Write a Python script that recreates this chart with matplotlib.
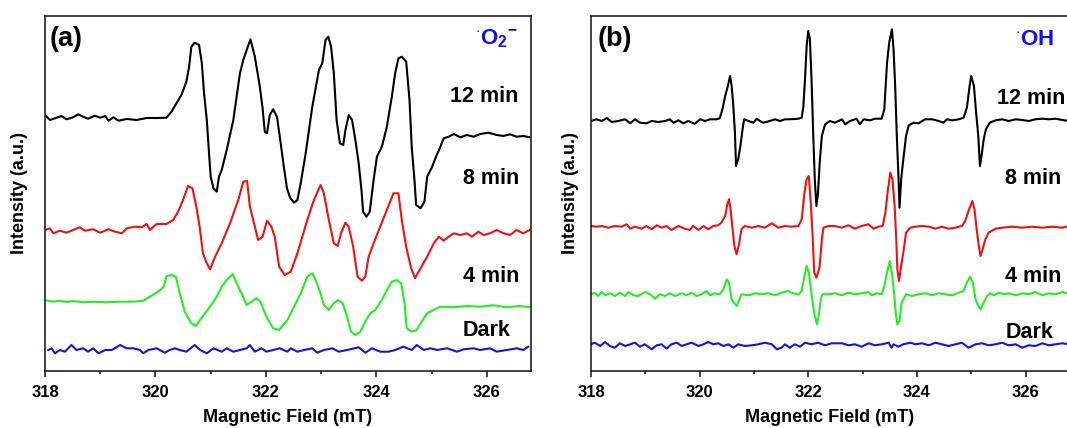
import matplotlib
matplotlib.use("Agg")
import matplotlib.pyplot as plt
from matplotlib.ticker import MultipleLocator

plt.rcParams["font.family"] = ["Liberation Sans", "DejaVu Sans"]
plt.rcParams["font.weight"] = "bold"
plt.rcParams["mathtext.fontset"] = "custom"
plt.rcParams["mathtext.rm"] = "Liberation Sans:bold"
plt.rcParams["mathtext.it"] = "Liberation Sans:bold"
plt.rcParams["mathtext.bf"] = "Liberation Sans:bold"

# ---- panel (a): .O2- spectra (field in mT, intensity in a.u. incl. offset)
a12_field = [318.00, 318.09, 318.18, 318.30, 318.39, 318.51, 318.60, 318.69, 318.78, 318.90,
             319.00, 319.09, 319.15, 319.24, 319.33, 319.48, 319.66, 319.84, 320.02, 320.20,
             320.29, 320.38, 320.47, 320.56, 320.61, 320.65, 320.71, 320.79, 320.84, 320.88,
             320.93, 320.97, 321.00, 321.05, 321.11, 321.15, 321.20, 321.29, 321.41, 321.53,
             321.59, 321.72, 321.80, 321.89, 321.94, 321.98, 322.02, 322.07, 322.13, 322.20,
             322.26, 322.32, 322.38, 322.44, 322.51, 322.57, 322.63, 322.72, 322.84, 322.96,
             323.02, 323.08, 323.13, 323.18, 323.23, 323.28, 323.34, 323.40, 323.44, 323.50,
             323.56, 323.62, 323.68, 323.73, 323.76, 323.82, 323.88, 323.95, 324.01, 324.10,
             324.19, 324.28, 324.34, 324.40, 324.46, 324.54, 324.60, 324.64, 324.69, 324.72,
             324.80, 324.87, 324.92, 325.01, 325.08, 325.16, 325.22, 325.31, 325.40, 325.52,
             325.64, 325.76, 325.88, 326.03, 326.18, 326.30, 326.42, 326.54, 326.66, 326.78]
a12_int = [255, 250, 251.7, 254, 250.7, 252.7, 255.7, 253.3, 251.3, 254.3,
           252.3, 254, 249.3, 252.7, 249.3, 251, 250, 252, 252, 252.3,
           258.3, 266.7, 275, 288.3, 303.3, 323.3, 327.3, 325, 306.7, 276.7,
           250, 216.7, 193.3, 181.7, 178.3, 193.3, 200, 220, 250, 296.7,
           310, 330.7, 313.3, 283.3, 261.7, 238.3, 236.7, 255, 260.7, 253.3,
           230, 205, 182, 172, 167.3, 170, 186.7, 216.7, 263.3, 300,
           306.7, 330, 333.3, 323.3, 296.7, 250, 226.7, 225, 240, 255,
           250, 230, 206.7, 180, 158.3, 153.3, 158.3, 190, 213.3, 223.3,
           243.3, 273.3, 296.7, 311.7, 313.3, 308.3, 270, 223.3, 190, 165,
           161.7, 168.3, 193.3, 203.3, 213.3, 223.3, 231.7, 233.3, 236, 232.7,
           235, 233.3, 236, 237.3, 235, 234, 235.7, 233.3, 234, 232.7]

a8_field = [318.00, 318.09, 318.15, 318.27, 318.39, 318.51, 318.63, 318.72, 318.87, 319.00,
            319.15, 319.27, 319.39, 319.48, 319.63, 319.75, 319.84, 319.90, 320.02, 320.20,
            320.32, 320.41, 320.50, 320.59, 320.67, 320.74, 320.80, 320.86, 320.93, 320.99,
            321.08, 321.20, 321.35, 321.50, 321.59, 321.66, 321.71, 321.77, 321.86, 321.94,
            322.02, 322.10, 322.16, 322.24, 322.34, 322.45, 322.57, 322.75, 322.87, 322.99,
            323.05, 323.14, 323.23, 323.30, 323.36, 323.44, 323.50, 323.58, 323.66, 323.74,
            323.80, 323.86, 323.95, 324.07, 324.19, 324.31, 324.40, 324.46, 324.54, 324.63,
            324.70, 324.80, 324.92, 325.04, 325.13, 325.22, 325.31, 325.40, 325.52, 325.64,
            325.73, 325.85, 325.94, 326.06, 326.18, 326.30, 326.42, 326.54, 326.66, 326.78]
a8_int = [140, 141.7, 136.7, 139.3, 137.3, 140, 142.7, 139.3, 140.7, 137.3,
          140.7, 138.3, 136.7, 141.7, 143.3, 142.7, 146, 140, 146, 146,
          150, 158.3, 170, 184, 181.7, 163.3, 143.3, 116.7, 106.7, 100.7,
          113.3, 126.7, 146.7, 170, 188.3, 189, 163.3, 150, 130, 133.3,
          149.3, 143.3, 133.3, 103.3, 95, 98.3, 116.7, 150, 170, 185,
          176.7, 150, 126.7, 124, 136.7, 147.3, 143.3, 123.3, 93.3, 89.3,
          93.3, 113.3, 126.7, 143.3, 160, 176.7, 176.7, 150, 123.3, 101.7,
          91.7, 101.7, 113.3, 126.7, 133.3, 129.3, 133.3, 136.7, 135, 136.7,
          133.3, 138.3, 135, 136.7, 140, 136.7, 135, 140, 136.7, 140]

a4_field = [318.00, 318.15, 318.27, 318.39, 318.51, 318.69, 318.87, 319.12, 319.36, 319.60,
            319.78, 319.90, 320.05, 320.15, 320.20, 320.29, 320.37, 320.44, 320.53, 320.65,
            320.73, 320.83, 320.99, 321.11, 321.20, 321.29, 321.40, 321.47, 321.56, 321.65,
            321.74, 321.83, 321.90, 322.01, 322.13, 322.24, 322.39, 322.51, 322.63, 322.75,
            322.84, 322.90, 322.99, 323.05, 323.14, 323.23, 323.31, 323.39, 323.47, 323.54,
            323.62, 323.71, 323.80, 323.89, 323.98, 324.10, 324.19, 324.28, 324.37, 324.45,
            324.51, 324.55, 324.64, 324.73, 324.82, 324.92, 325.04, 325.16, 325.40, 325.64,
            325.88, 326.12, 326.36, 326.60, 326.78]
a4_int = [70, 68.3, 69.3, 68, 69, 67.7, 68.3, 67.7, 68.3, 68.3,
          69.3, 73.3, 78.3, 83.3, 94, 95, 93.3, 76.7, 58.3, 46.7,
          44, 51.7, 63.3, 73.3, 83.3, 90, 96, 86.7, 76.7, 65,
          68.3, 71.7, 68.3, 53.3, 41.7, 40, 50, 63.3, 76.7, 93.3,
          96.7, 90, 76.7, 65, 60, 66.7, 70, 66.7, 53.3, 38.3,
          35, 38.3, 48.3, 56.7, 60, 70, 80, 88.3, 90, 86.7,
          66.7, 41.7, 38.3, 40, 48.3, 56.7, 60, 63.3, 62.7, 64,
          63.3, 64.7, 62.7, 64, 62.7]

a_dark_field = [318.06, 318.12, 318.18, 318.27, 318.36, 318.48, 318.57, 318.69, 318.78, 318.87,
                318.97, 319.09, 319.21, 319.36, 319.48, 319.60, 319.72, 319.78, 319.87, 320.02,
                320.17, 320.26, 320.35, 320.44, 320.56, 320.71, 320.81, 320.93, 321.05, 321.20,
                321.29, 321.41, 321.53, 321.65, 321.71, 321.80, 321.92, 322.01, 322.13, 322.25,
                322.39, 322.45, 322.57, 322.69, 322.84, 322.93, 323.05, 323.20, 323.32, 323.47,
                323.68, 323.80, 323.92, 324.07, 324.22, 324.34, 324.49, 324.64, 324.73, 324.86,
                324.98, 325.10, 325.28, 325.46, 325.58, 325.76, 325.88, 326.06, 326.18, 326.36,
                326.54, 326.66, 326.75]
a_dark_int = [20, 21.7, 16.7, 20, 18.3, 25, 20, 21.7, 18.3, 21.7,
              16.7, 20, 20, 25, 21.7, 21.7, 20, 16.7, 20, 21.7,
              17.3, 20, 21.7, 20, 18.3, 25, 20, 16.7, 21.7, 18.3,
              21.7, 18.3, 20, 21.7, 25, 18.3, 21.7, 18.3, 20, 21.7,
              18.3, 21.7, 18.3, 20, 21.7, 17.3, 20, 21.7, 18.3, 20,
              22.7, 17.3, 21.7, 18.3, 18.3, 20, 23.3, 20, 25, 20,
              21.7, 20, 21.7, 18.3, 20.7, 21.7, 20, 21.7, 18.3, 20,
              21.7, 20, 23.3]

# ---- panel (b): .OH spectra
b12_field = [318.00, 318.10, 318.20, 318.29, 318.38, 318.50, 318.63, 318.72, 318.81, 318.90,
             319.02, 319.12, 319.24, 319.36, 319.45, 319.52, 319.61, 319.70, 319.79, 319.91,
             320.01, 320.10, 320.19, 320.31, 320.37, 320.42, 320.47, 320.52, 320.56, 320.59,
             320.62, 320.65, 320.67, 320.71, 320.75, 320.79, 320.82, 320.90, 320.99, 321.05,
             321.11, 321.17, 321.29, 321.39, 321.48, 321.57, 321.66, 321.82, 321.88, 321.91,
             321.94, 321.97, 322.00, 322.03, 322.06, 322.09, 322.12, 322.15, 322.18, 322.21,
             322.25, 322.31, 322.40, 322.49, 322.62, 322.68, 322.77, 322.89, 322.95, 323.02,
             323.14, 323.23, 323.35, 323.40, 323.45, 323.49, 323.54, 323.57, 323.60, 323.63,
             323.66, 323.68, 323.71, 323.75, 323.80, 323.85, 323.94, 324.03, 324.15, 324.28,
             324.40, 324.49, 324.55, 324.65, 324.77, 324.86, 324.92, 324.97, 325.00, 325.05,
             325.09, 325.13, 325.16, 325.19, 325.23, 325.27, 325.34, 325.45, 325.57, 325.69,
             325.82, 325.94, 326.06, 326.18, 326.31, 326.43, 326.55, 326.68, 326.80]
b12_int = [249, 250.7, 249, 252, 248, 249, 250.7, 246.7, 250.7, 247.3,
           246.7, 249, 248, 249, 250.7, 247.3, 249.7, 246.7, 249, 246.3,
           250.7, 249, 250.7, 250.7, 251.7, 260.7, 274, 284, 294, 284,
           264, 237.3, 204, 210.7, 224, 240.7, 250.7, 249, 247.3, 251.3,
           249, 247.3, 249, 250.7, 249, 250.7, 250.7, 251.3, 252.3, 264,
           290.7, 324, 339, 330.7, 290.7, 237.3, 190.7, 164, 177.3, 207.3,
           234, 245.7, 249, 247.3, 250.7, 245.7, 249, 251.3, 245.7, 250.7,
           249.7, 251.3, 251.3, 260.7, 307.3, 327.3, 340.7, 320.7, 284, 234,
           194, 162.3, 190.7, 210.7, 234, 244.7, 247.3, 246.7, 250.7, 250.7,
           249, 247.3, 250.7, 249.7, 250.7, 252.3, 262.3, 284, 294, 284,
           257.3, 234, 204, 214, 230.7, 240.7, 247.3, 249.7, 250.7, 249,
           250.7, 250, 249, 250.7, 251.3, 250.7, 251.3, 250, 249]

b8_field = [318.00, 318.10, 318.20, 318.32, 318.44, 318.56, 318.66, 318.72, 318.81, 318.93,
            319.02, 319.12, 319.21, 319.30, 319.39, 319.48, 319.61, 319.73, 319.82, 319.88,
            319.98, 320.07, 320.16, 320.25, 320.34, 320.40, 320.47, 320.51, 320.54, 320.57,
            320.60, 320.64, 320.68, 320.72, 320.77, 320.83, 320.96, 321.08, 321.20, 321.33,
            321.45, 321.57, 321.69, 321.82, 321.88, 321.93, 321.97, 322.01, 322.05, 322.08,
            322.11, 322.15, 322.18, 322.21, 322.25, 322.28, 322.37, 322.49, 322.62, 322.74,
            322.86, 322.98, 323.11, 323.20, 323.29, 323.37, 323.42, 323.46, 323.51, 323.55,
            323.59, 323.62, 323.64, 323.67, 323.71, 323.75, 323.80, 323.88, 323.97, 324.09,
            324.22, 324.34, 324.46, 324.58, 324.71, 324.83, 324.89, 324.95, 325.02, 325.06,
            325.10, 325.14, 325.17, 325.21, 325.26, 325.32, 325.45, 325.57, 325.75, 325.94,
            326.12, 326.31, 326.49, 326.68, 326.80]
b8_int = [144, 143.3, 144, 142.3, 144, 143.3, 145.7, 141.3, 143.3, 141.3,
          144, 140.7, 144.7, 142.3, 144, 140, 144, 141.3, 140, 144,
          140, 144, 140.7, 144, 144.7, 147.3, 154, 165.7, 170.7, 160.7,
          144, 124, 115.7, 124, 140.7, 144, 142.3, 144, 142.3, 146.7,
          142.3, 144, 143.3, 144, 150.7, 177.3, 190.7, 194, 164, 134,
          97.3, 92.3, 97.3, 104, 130.7, 142.3, 144, 144, 142.3, 144.7,
          141.3, 144, 145.7, 141.3, 143.3, 144, 157.3, 177.3, 197.3, 190.7,
          164, 130.7, 100.7, 89, 104, 117.3, 137.3, 142.3, 143.3, 144,
          143.3, 141.3, 143.3, 141.3, 142.3, 144, 149, 159, 169, 160.7,
          140.7, 124, 114, 120.7, 130.7, 137.3, 141.3, 142.3, 143.3, 142.3,
          143.3, 142.3, 143.3, 142.3, 144]

b4_field = [318.00, 318.07, 318.13, 318.20, 318.26, 318.35, 318.44, 318.53, 318.63, 318.69,
            318.78, 318.87, 319.00, 319.09, 319.18, 319.27, 319.36, 319.45, 319.55, 319.67,
            319.76, 319.85, 319.94, 320.04, 320.13, 320.19, 320.28, 320.37, 320.44, 320.50,
            320.54, 320.59, 320.63, 320.68, 320.72, 320.77, 320.90, 321.02, 321.14, 321.26,
            321.39, 321.51, 321.63, 321.72, 321.82, 321.88, 321.93, 321.97, 322.01, 322.05,
            322.09, 322.12, 322.16, 322.20, 322.23, 322.26, 322.37, 322.49, 322.62, 322.74,
            322.86, 322.98, 323.11, 323.17, 323.26, 323.35, 323.40, 323.45, 323.50, 323.54,
            323.58, 323.61, 323.64, 323.68, 323.72, 323.80, 323.91, 324.03, 324.15, 324.28,
            324.40, 324.52, 324.65, 324.77, 324.86, 324.92, 324.98, 325.03, 325.08, 325.13,
            325.17, 325.23, 325.29, 325.35, 325.42, 325.51, 325.60, 325.69, 325.82, 325.94,
            326.06, 326.18, 326.31, 326.43, 326.55, 326.68, 326.80]
b4_int = [75.7, 77.3, 74, 78, 74.7, 76.7, 74, 77.3, 74, 78,
          74.7, 74, 78, 75.7, 71.3, 75.7, 74, 76.7, 74, 76.7,
          74.7, 77.3, 74, 75.7, 79, 74.7, 76.7, 75.7, 80.7, 90.7,
          87.3, 70.7, 67.3, 64, 69, 75.7, 74.7, 76.7, 75.7, 76.7,
          74.7, 77.3, 79, 76.7, 75.7, 79, 94, 104, 97.3, 80.7,
          64, 54, 45.7, 57.3, 70.7, 75.7, 75.7, 76.7, 74.7, 77.3,
          75.7, 76.7, 78, 74.7, 76.7, 75.7, 84, 97.3, 109, 97.3,
          77.3, 57.3, 45.7, 49, 67.3, 75.7, 74, 75.7, 76.7, 74.7,
          76.7, 75.7, 74.7, 77.3, 79, 87.3, 93.3, 87.3, 70.7, 64,
          60.7, 67.3, 74, 76.7, 74.7, 77.3, 75.7, 76.7, 74.7, 76.7,
          75.7, 78, 74.7, 76.7, 75.7, 78, 75.7]

b_dark_field = [318.00, 318.07, 318.17, 318.26, 318.35, 318.44, 318.53, 318.63, 318.72, 318.81,
                318.90, 318.99, 319.12, 319.21, 319.30, 319.39, 319.48, 319.58, 319.67, 319.76,
                319.85, 319.98, 320.07, 320.16, 320.25, 320.34, 320.44, 320.53, 320.62, 320.71,
                320.83, 320.96, 321.08, 321.20, 321.33, 321.42, 321.51, 321.57, 321.66, 321.75,
                321.85, 321.94, 322.06, 322.18, 322.31, 322.43, 322.62, 322.74, 322.86, 322.98,
                323.11, 323.23, 323.35, 323.48, 323.53, 323.57, 323.66, 323.75, 323.88, 323.97,
                324.09, 324.22, 324.34, 324.46, 324.58, 324.71, 324.83, 324.95, 325.08, 325.20,
                325.32, 325.45, 325.57, 325.69, 325.82, 325.94, 326.06, 326.18, 326.31, 326.43,
                326.55, 326.68, 326.80]
b_dark_int = [25.7, 27.3, 24, 28, 24, 22.3, 26.7, 24, 25.7, 27.3,
              23.3, 25.7, 20.7, 24.7, 25.7, 21.3, 25.7, 27.3, 24, 25.7,
              27.3, 24, 25.7, 28, 25.7, 26.7, 24, 25.7, 22.3, 25.7,
              24, 24.7, 25.7, 27.3, 25.7, 20.7, 22.3, 25.7, 22.3, 25.7,
              23.3, 27.3, 25.7, 27.3, 24.7, 26.7, 26.7, 24.7, 25.7, 23.3,
              26.7, 24.7, 25.7, 27.3, 22.3, 25.7, 23.3, 25.7, 27.3, 25.7,
              26.7, 24.7, 27.3, 25.7, 24, 25.7, 27.3, 22.3, 25.7, 26.7,
              24.7, 25.7, 27.3, 24.7, 25.7, 22.3, 24.7, 24, 26.7, 24.7,
              25.7, 26.7, 25.7]

colors = {"12 min": "#000000", "8 min": "#ee1111", "4 min": "#22ee22", "Dark": "#1414dd"}

panels = [
    {
        "pos": [45 / 1067, 57 / 428, 486 / 1067, 355 / 428],
        "curves": [("12 min", a12_field, a12_int), ("8 min", a8_field, a8_int),
                   ("4 min", a4_field, a4_int), ("Dark", a_dark_field, a_dark_int)],
        "letter": "(a)", "letter_x": 0.010, "ylabel_x": -0.036,
        "species": r"$^{\cdot}\mathrm{O}_2{}^{-}$", "species_x": 0.972,
        "labels": [("12 min", 325.34, 273), ("8 min", 325.57, 191),
                   ("4 min", 325.57, 93), ("Dark", 325.57, 39)],
    },
    {
        "pos": [591 / 1067, 57 / 428, 478 / 1067, 355 / 428],
        "curves": [("12 min", b12_field, b12_int), ("8 min", b8_field, b8_int),
                   ("4 min", b4_field, b4_int), ("Dark", b_dark_field, b_dark_int)],
        "letter": "(b)", "letter_x": 0.013, "ylabel_x": -0.026,
        "species": r"$^{\cdot}\mathrm{OH}$", "species_x": 0.968,
        "labels": [("12 min", 325.48, 272), ("8 min", 325.63, 191),
                   ("4 min", 325.63, 93), ("Dark", 325.63, 38)],
    },
]

fig = plt.figure(figsize=(10.67, 4.28), dpi=100)

for panel in panels:
    ax = fig.add_axes(panel["pos"])
    for name, field, inten in panel["curves"]:
        ax.plot(field, inten, color=colors[name], linewidth=1.5)

    ax.set_xlim(318, 326.8)
    ax.set_ylim(-1, 354)
    ax.xaxis.set_major_locator(MultipleLocator(2))
    ax.xaxis.set_minor_locator(MultipleLocator(1))
    ax.set_yticks([])
    ax.tick_params(axis="x", which="major", direction="out", length=4, width=1.2,
                   labelsize=12, pad=6, color="#222222")
    ax.tick_params(axis="x", which="minor", direction="out", length=2.5, width=1.2,
                   color="#222222")
    for lbl in ax.get_xticklabels():
        lbl.set_fontweight("bold")
    for spine in ax.spines.values():
        spine.set_linewidth(1.2)
        spine.set_color("#222222")

    ax.set_xlabel("Magnetic Field (mT)", fontsize=13, fontweight="bold", va="top")
    ax.xaxis.set_label_coords(0.5, -0.108)
    ax.set_ylabel("Intensity (a.u.)", fontsize=13, fontweight="bold")
    ax.yaxis.set_label_coords(panel["ylabel_x"], 0.5)

    ax.text(panel["letter_x"], 0.935, panel["letter"], transform=ax.transAxes,
            fontsize=19.5, fontweight="bold", ha="left", va="center")
    ax.text(panel["species_x"], 0.935, panel["species"], transform=ax.transAxes,
            fontsize=16, fontweight="bold", color="#1010ee", ha="right", va="center")
    for text, x, y in panel["labels"]:
        ax.text(x, y, text, fontsize=15.5, fontweight="bold", ha="left", va="center")

fig.savefig("out.png", dpi=100)
